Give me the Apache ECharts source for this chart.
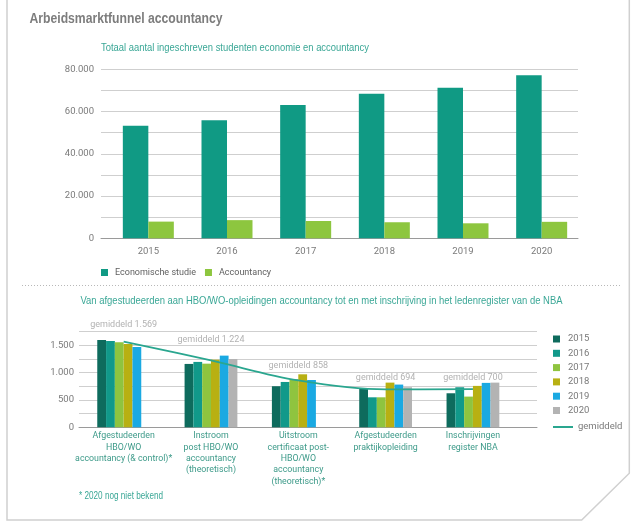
<!DOCTYPE html>
<html>
<head>
<meta charset="utf-8">
<script src="https://cdn.jsdelivr.net/npm/echarts@6/dist/echarts.min.js"></script>
<style>
html,body{margin:0;padding:0;background:#fff;}
#chart{width:640px;height:528px;}
</style>
</head>
<body>
<div id="chart"></div>
<script>
// ---------- DATA ----------
const years = ['2015', '2016', '2017', '2018', '2019', '2020'];
const econValues = [53300, 55900, 63100, 68400, 71300, 77200];
const accValues = [7900, 8600, 8200, 7600, 7100, 7800];

const stages = [
  'Afgestudeerden\nHBO/WO\naccountancy (& control)*',
  'Instroom\npost HBO/WO\naccountancy\n(theoretisch)',
  'Uitstroom\ncertificaat post-\nHBO/WO\naccountancy\n(theoretisch)*',
  'Afgestudeerden\npraktijkopleiding',
  'Inschrijvingen\nregister NBA'
];
const stage2015 = [1600, 1160, 752, 709, 623];
const stage2016 = [1580, 1197, 830, 549, 733];
const stage2017 = [1555, 1165, 880, 549, 562];
const stage2018 = [1525, 1238, 970, 818, 758];
const stage2019 = [1470, 1312, 866, 782, 813];
const stage2020 = [null, 1250, null, 733, 818];
const averages = [1569, 1224, 858, 694, 700];

const titleText = 'Arbeidsmarktfunnel accountancy';
const subTitleTop = 'Totaal aantal ingeschreven studenten economie en accountancy';
const subTitleBottom = 'Van afgestudeerden aan HBO/WO-opleidingen accountancy tot en met inschrijving in het ledenregister van de NBA';
const footnote = '* 2020 nog niet bekend';
const avgName = 'gemiddeld';

// ---------- STYLE ----------
const FONT = "Roboto, 'Liberation Sans', sans-serif";
const TFONT = "'Liberation Sans', Arial, sans-serif";
const yearColors = ['#0e6b5d', '#11998a', '#8fc43f', '#b8b012', '#1aa9e2', '#b3b3b3'];
const econColor = '#109a84';
const accColor = '#8dc63f';
const lineColor = '#2aa68f';
const gridColor = '#cfcfcf';
const axisColor = '#9a9a9a';
const labelGray = '#7a7a7a';
const teal = '#3aa796';
const avgLabelLift = [12, 16, 10, 7, 7];

function fmt(v) {
  return String(v).replace(/\B(?=(\d{3})+(?!\d))/g, '.');
}

// condensed-looking text: measure and squeeze horizontally to the target width
const measureCtx = document.createElement('canvas').getContext('2d');
function squeezedText(text, x, y, targetWidth, font, color) {
  measureCtx.font = font;
  const w = measureCtx.measureText(text).width;
  return {
    type: 'text', x: x, y: y, scaleX: targetWidth / w, silent: true,
    style: {text: text, font: font, fill: color, verticalAlign: 'middle', align: 'left'}
  };
}

const chart = echarts.init(document.getElementById('chart'), null, {renderer: 'canvas'});

const stageSeries = [stage2015, stage2016, stage2017, stage2018, stage2019, stage2020];

const option = {
  animation: false,
  textStyle: {fontFamily: FONT},
  legend: [
    {
      left: 96, top: 263, itemWidth: 7, itemHeight: 7, itemGap: 9, icon: 'rect',
      data: ['Economische studie', 'Accountancy'],
      textStyle: {fontFamily: FONT, fontSize: 9, color: '#5f5f5f', padding: [0, 0, 0, 2]}
    },
    {
      left: 548, top: 328, orient: 'vertical', itemWidth: 7, itemHeight: 7, itemGap: 2.3, icon: 'rect',
      data: years,
      textStyle: {fontFamily: FONT, fontSize: 9.5, color: labelGray, lineHeight: 12, padding: [0, 0, 0, 3]}
    },
    {
      left: 548, top: 417, orient: 'vertical', itemWidth: 20, itemHeight: 2, icon: 'rect',
      data: [avgName],
      textStyle: {fontFamily: FONT, fontSize: 9.5, color: labelGray, padding: [0, 0, 0, 0]}
    }
  ],
  grid: [
    {left: 101, right: 62, top: 69.3, bottom: 289.7},   // top background
    {left: 109, right: 59, top: 69.3, bottom: 289.7},   // top bars
    {left: 79, right: 103, top: 331.7, bottom: 100.7},  // bottom background
    {left: 80, right: 123.4, top: 331.7, bottom: 100.7} // bottom bars
  ],
  xAxis: [
    {gridIndex: 0, type: 'category', data: [''], axisLine: {show: true, lineStyle: {color: axisColor, width: 1}}, axisTick: {show: false}, axisLabel: {show: false}},
    {gridIndex: 1, type: 'category', data: years, axisLine: {show: false}, axisTick: {show: false},
      axisLabel: {color: labelGray, fontSize: 9.5, margin: 8, fontFamily: FONT}},
    {gridIndex: 2, type: 'category', data: [''], axisLine: {show: true, lineStyle: {color: axisColor, width: 1}}, axisTick: {show: false}, axisLabel: {show: false}},
    {gridIndex: 3, type: 'category', data: stages, axisLine: {show: false}, axisTick: {show: false},
      axisLabel: {color: '#3d9a89', fontSize: 8.8, lineHeight: 11.4, margin: 3, interval: 0, fontFamily: FONT}}
  ],
  yAxis: [
    {gridIndex: 0, type: 'value', min: 0, max: 80000, interval: 20000,
      axisLine: {show: false}, axisTick: {show: false},
      axisLabel: {color: labelGray, fontSize: 9.5, margin: 7, formatter: v => fmt(v), fontFamily: FONT},
      splitLine: {show: true, lineStyle: {color: gridColor, width: 1}},
      minorTick: {show: false, splitNumber: 2},
      minorSplitLine: {show: true, lineStyle: {color: gridColor, width: 1}}},
    {gridIndex: 1, type: 'value', min: 0, max: 80000, show: false, splitLine: {show: false}},
    {gridIndex: 2, type: 'value', min: 0, max: 1750, interval: 250,
      axisLine: {show: false}, axisTick: {show: false},
      axisLabel: {color: labelGray, fontSize: 9.5, margin: 5, fontFamily: FONT,
        formatter: v => (v % 500 === 0 ? fmt(v) : '')},
      splitLine: {show: true, lineStyle: {color: gridColor, width: 1}}},
    {gridIndex: 3, type: 'value', min: 0, max: 1750, show: false, splitLine: {show: false}}
  ],
  series: [
    {name: 'Economische studie', type: 'bar', xAxisIndex: 1, yAxisIndex: 1, data: econValues,
      barWidth: 25.5, barGap: '0%', itemStyle: {color: econColor}},
    {name: 'Accountancy', type: 'bar', xAxisIndex: 1, yAxisIndex: 1, data: accValues,
      barWidth: 25.5, barGap: '0%', itemStyle: {color: accColor}},
    ...stageSeries.map((arr, i) => ({
      name: years[i], type: 'bar', xAxisIndex: 3, yAxisIndex: 3, data: arr,
      barWidth: 8.8, barGap: '0%', itemStyle: {color: yearColors[i]}
    })),
    {name: avgName, type: 'line', xAxisIndex: 3, yAxisIndex: 3, smooth: 0.35,
      symbol: 'circle', symbolSize: 0, showSymbol: true, z: 5,
      lineStyle: {color: lineColor, width: 1.8}, itemStyle: {color: lineColor},
      label: {show: true},
      data: averages.map((v, i) => ({
        value: v,
        label: {show: true, position: 'top', distance: avgLabelLift[i],
          formatter: p => avgName + ' ' + fmt(p.value), color: '#b2b2b2', fontSize: 9, fontFamily: FONT}
      }))}
  ],
  graphic: [
    {type: 'polyline', shape: {points: [[7, 0], [7, 520], [581.7, 520], [629.3, 473.3], [629.3, 0]]},
      style: {stroke: '#d0d0d0', lineWidth: 1.5, fill: null}, silent: true},
    {type: 'line', shape: {x1: 22, y1: 285.5, x2: 620, y2: 285.5},
      style: {stroke: '#b8b8b8', lineWidth: 1, lineDash: [1, 2]}, silent: true},
    squeezedText(titleText, 29.5, 18.5, 193, 'bold 15px ' + TFONT, '#7d7d7d'),
    squeezedText(subTitleTop, 101, 47.5, 268, '11px ' + TFONT, teal),
    squeezedText(subTitleBottom, 80.5, 301, 482, '11px ' + TFONT, teal),
    squeezedText(footnote, 79, 496, 84, '10px ' + TFONT, teal)
  ]
};
chart.setOption(option);
</script>
</body>
</html>
